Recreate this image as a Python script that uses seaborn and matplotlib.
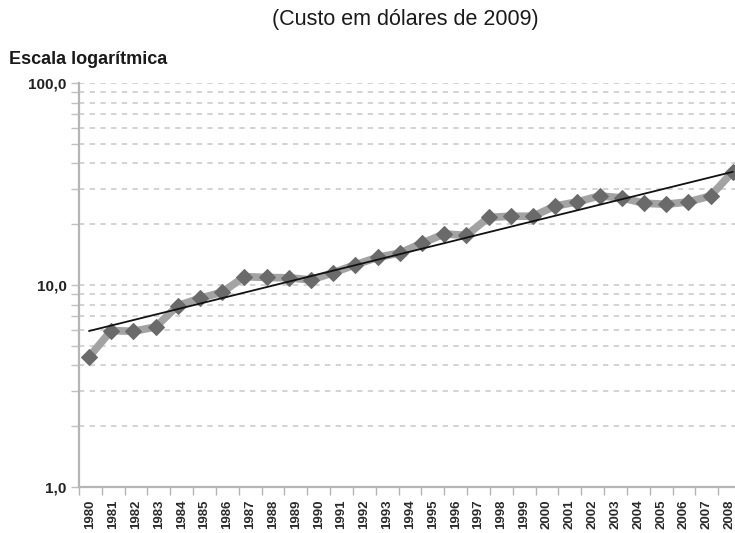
import numpy as np
import pandas as pd
import seaborn as sns
import matplotlib.pyplot as plt
from matplotlib.ticker import FixedLocator, NullFormatter, LogLocator

anos_rotulo = [str(a) for a in range(1980, 2009)]
anos_dados = list(range(1980, 2010))
custo = [4.4, 5.95, 5.9, 6.2, 7.9, 8.6, 9.2, 11.0, 10.9, 10.85, 10.6, 11.5, 12.6,
         13.7, 14.4, 16.1, 17.9, 17.6, 21.6, 21.9, 21.9, 24.6, 25.8, 27.6, 27.0,
         25.4, 25.1, 25.8, 27.6, 36.4]

df = pd.DataFrame({"i": range(len(custo)), "ano": anos_dados, "custo": custo})

# tendência exponencial (reta no log)
b, a = np.polyfit(df["i"], np.log10(df["custo"]), 1)
df["tend"] = 10 ** (a + b * df["i"])

sns.set_style("white")
plt.rcParams["font.family"] = ["Liberation Sans", "DejaVu Sans"]

fig = plt.figure(figsize=(7.35, 5.33), dpi=100)
ax = fig.add_axes([79 / 735, 46 / 533, 662 / 735, 404 / 533])

# eixo de categorias (rótulos dos anos)
ax.set_xlim(-0.5, 28.5)
ax.set_xticks(range(len(anos_rotulo)))
ax.set_xticklabels(anos_rotulo, rotation=90, fontsize=9.5, fontweight="bold", color="#2a2a2a")
ax.xaxis.set_minor_locator(FixedLocator(np.arange(-0.5, 29, 1)))
ax.tick_params(axis="x", which="major", length=0, pad=9)
ax.tick_params(axis="x", which="minor", length=6, width=1, color="#b5b5b5", direction="out")

ax.set_yscale("log")
ax.set_ylim(1, 100)
ax.yaxis.set_major_locator(FixedLocator([1, 10, 100]))
ax.set_yticklabels(["1,0", "10,0", "100,0"], fontsize=11, fontweight="bold", color="#222222")
ax.yaxis.set_minor_locator(LogLocator(base=10, subs=np.arange(2, 10)))
ax.yaxis.set_minor_formatter(NullFormatter())
ax.tick_params(axis="y", which="both", length=6, width=1, color="#c0c0c0",
               direction="out", pad=3, left=True)
ax.grid(axis="y", which="both", linestyle=(0, (3.5, 3.5)), linewidth=1.1, color="#c8c8c8")
ax.grid(axis="x", visible=False)
for s in ["top", "right"]:
    ax.spines[s].set_visible(False)
for s in ["left", "bottom"]:
    ax.spines[s].set_color("#b5b5b5")
    ax.spines[s].set_linewidth(1.6)

# dados num eixo gêmeo
ax2 = ax.twiny()
sns.lineplot(data=df, x="i", y="custo", ax=ax2, color="#a3a3a3", linewidth=5.5,
             marker="D", markersize=8, markerfacecolor="#6a6a6a",
             markeredgecolor="#6a6a6a", clip_on=False)
sns.lineplot(data=df, x="i", y="tend", ax=ax2, color="#111111", linewidth=1.3)
ax2.set_xlim(-0.45, 29.37)
ax2.set_xlabel("")
ax2.set_ylabel("")
ax2.tick_params(top=False, labeltop=False, bottom=False, labelbottom=False)
for s in ax2.spines.values():
    s.set_visible(False)

fig.text(405 / 735, 1 - 20 / 533, "(Custo em dólares de 2009)", ha="center", va="center",
         fontsize=15.5, color="#1a1a1a")
fig.text(9 / 735, 1 - 60 / 533, "Escala logarítmica", ha="left", va="center",
         fontsize=13, fontweight="bold", color="#1a1a1a")

fig.savefig("out.png", dpi=100)
